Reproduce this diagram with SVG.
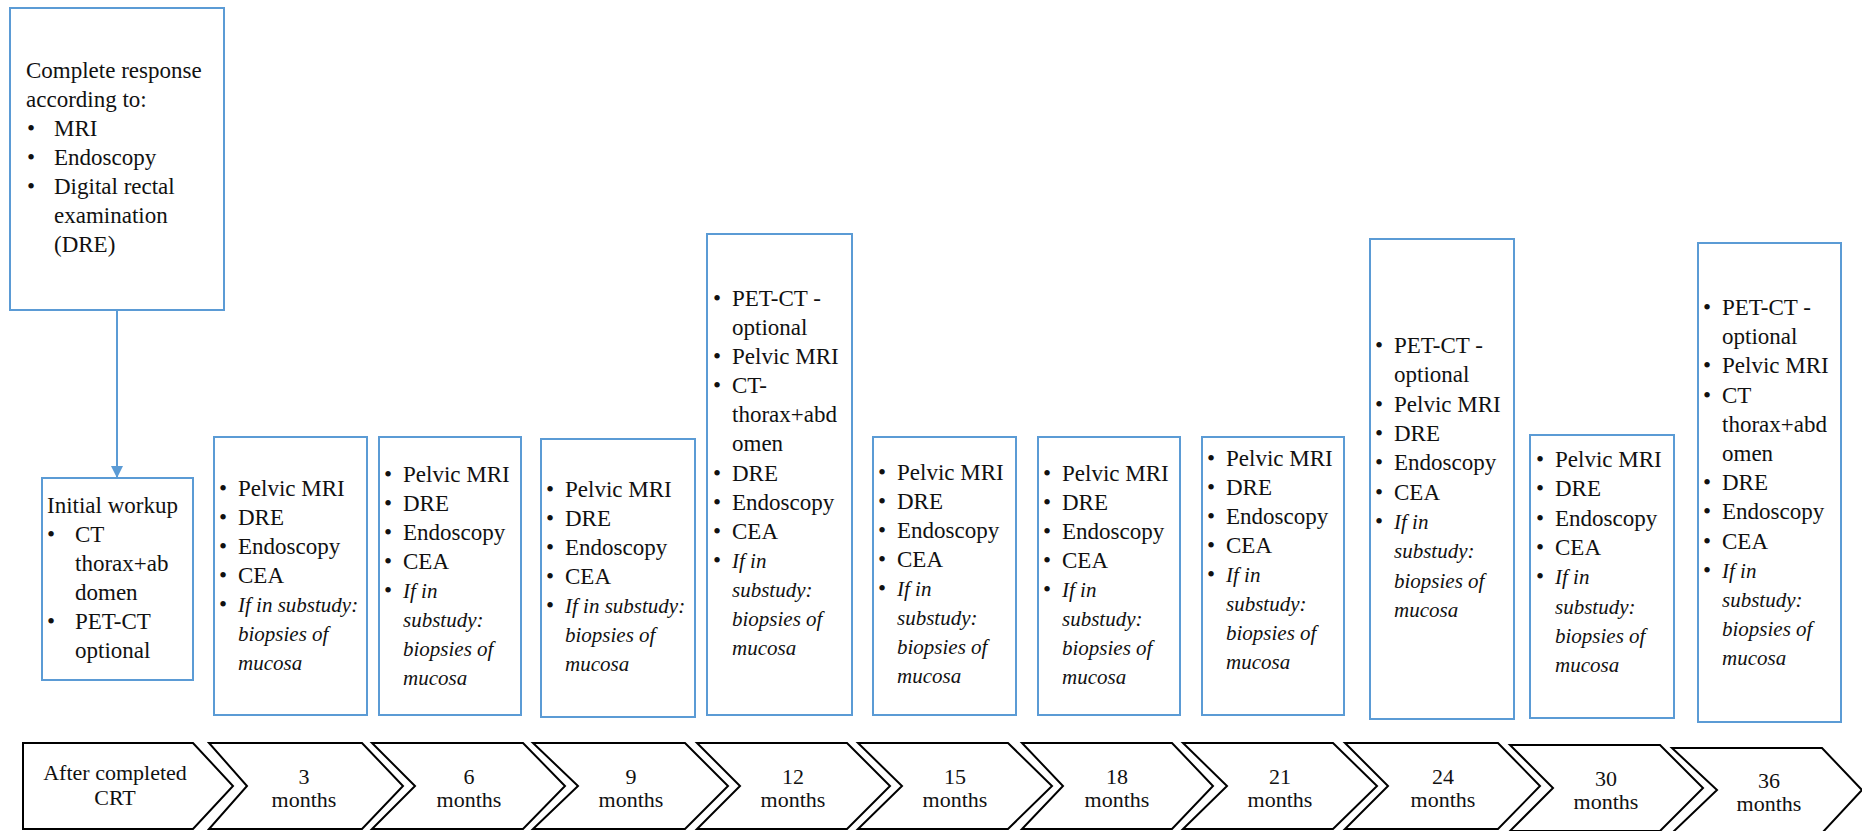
<svg xmlns="http://www.w3.org/2000/svg" width="1862" height="831" viewBox="0 0 1862 831">
<style>
.box{fill:#fff;stroke:#5B9BD5;stroke-width:2}
.chev{fill:#fff;stroke:#000;stroke-width:2;stroke-linejoin:miter}
.t,.i,.b,.c{font-family:'Liberation Serif','Times New Roman',serif;fill:#111}
.t{font-size:23px}
.i{font-size:21px;font-style:italic}
.b{font-size:23px;text-anchor:middle}
.c{font-size:22px;text-anchor:middle}
.conn{stroke:#5B9BD5;stroke-width:2;fill:none}
</style>
<defs>
<marker id="ah" viewBox="0 0 10 10" refX="10" refY="5" markerWidth="12" markerHeight="12" markerUnits="userSpaceOnUse" orient="auto">
<path d="M0,0 L10,5 L0,10 z" fill="#5B9BD5"/>
</marker>
</defs>
<rect width="1862" height="831" fill="#fff"/>

<g id="connectors">
<line class="conn" x1="117" y1="310" x2="117" y2="478" marker-end="url(#ah)"/>
</g>

<g id="complete-response">
<rect class="box" x="10" y="8" width="214" height="302"/>
<text class="t"><tspan x="26" y="78">Complete response</tspan><tspan x="26" y="107">according to:</tspan><tspan x="54" y="136">MRI</tspan><tspan x="54" y="165">Endoscopy</tspan><tspan x="54" y="194">Digital rectal</tspan><tspan x="54" y="223">examination</tspan><tspan x="54" y="252">(DRE)</tspan></text>
<text class="b"><tspan x="31" y="136">•</tspan><tspan x="31" y="165">•</tspan><tspan x="31" y="194">•</tspan></text>
</g>

<g id="initial-workup">
<rect class="box" x="42" y="478" width="151" height="202"/>
<text class="t"><tspan x="47" y="513">Initial workup</tspan><tspan x="75" y="542">CT</tspan><tspan x="75" y="571">thorax+ab</tspan><tspan x="75" y="600">domen</tspan><tspan x="75" y="629">PET-CT</tspan><tspan x="75" y="658">optional</tspan></text>
<text class="b"><tspan x="51" y="542">•</tspan><tspan x="51" y="629">•</tspan></text>
</g>

<g id="box-3">
<rect class="box" x="214" y="437" width="153" height="278"/>
<text class="t"><tspan x="238" y="496">Pelvic MRI</tspan><tspan x="238" y="525">DRE</tspan><tspan x="238" y="554">Endoscopy</tspan><tspan x="238" y="583">CEA</tspan></text>
<text class="i"><tspan x="238" y="612">If in substudy:</tspan><tspan x="238" y="641">biopsies of</tspan><tspan x="238" y="670">mucosa</tspan></text>
<text class="b"><tspan x="223" y="496">•</tspan><tspan x="223" y="525">•</tspan><tspan x="223" y="554">•</tspan><tspan x="223" y="583">•</tspan><tspan x="223" y="612">•</tspan></text>
</g>

<g id="box-6">
<rect class="box" x="379" y="437" width="142" height="278"/>
<text class="t"><tspan x="403" y="482">Pelvic MRI</tspan><tspan x="403" y="511">DRE</tspan><tspan x="403" y="540">Endoscopy</tspan><tspan x="403" y="569">CEA</tspan></text>
<text class="i"><tspan x="403" y="598">If in</tspan><tspan x="403" y="627">substudy:</tspan><tspan x="403" y="656">biopsies of</tspan><tspan x="403" y="685">mucosa</tspan></text>
<text class="b"><tspan x="388" y="482">•</tspan><tspan x="388" y="511">•</tspan><tspan x="388" y="540">•</tspan><tspan x="388" y="569">•</tspan><tspan x="388" y="598">•</tspan></text>
</g>

<g id="box-9">
<rect class="box" x="541" y="439" width="154" height="278"/>
<text class="t"><tspan x="565" y="497">Pelvic MRI</tspan><tspan x="565" y="526">DRE</tspan><tspan x="565" y="555">Endoscopy</tspan><tspan x="565" y="584">CEA</tspan></text>
<text class="i"><tspan x="565" y="613">If in substudy:</tspan><tspan x="565" y="642">biopsies of</tspan><tspan x="565" y="671">mucosa</tspan></text>
<text class="b"><tspan x="550" y="497">•</tspan><tspan x="550" y="526">•</tspan><tspan x="550" y="555">•</tspan><tspan x="550" y="584">•</tspan><tspan x="550" y="613">•</tspan></text>
</g>

<g id="box-12">
<rect class="box" x="707" y="234" width="145" height="481"/>
<text class="t"><tspan x="732" y="306">PET-CT -</tspan><tspan x="732" y="335">optional</tspan><tspan x="732" y="364">Pelvic MRI</tspan><tspan x="732" y="393">CT-</tspan><tspan x="732" y="422">thorax+abd</tspan><tspan x="732" y="451">omen</tspan><tspan x="732" y="481">DRE</tspan><tspan x="732" y="510">Endoscopy</tspan><tspan x="732" y="539">CEA</tspan></text>
<text class="i"><tspan x="732" y="568">If in</tspan><tspan x="732" y="597">substudy:</tspan><tspan x="732" y="626">biopsies of</tspan><tspan x="732" y="655">mucosa</tspan></text>
<text class="b"><tspan x="717" y="306">•</tspan><tspan x="717" y="364">•</tspan><tspan x="717" y="393">•</tspan><tspan x="717" y="481">•</tspan><tspan x="717" y="510">•</tspan><tspan x="717" y="539">•</tspan><tspan x="717" y="568">•</tspan></text>
</g>

<g id="box-15">
<rect class="box" x="873" y="437" width="143" height="278"/>
<text class="t"><tspan x="897" y="480">Pelvic MRI</tspan><tspan x="897" y="509">DRE</tspan><tspan x="897" y="538">Endoscopy</tspan><tspan x="897" y="567">CEA</tspan></text>
<text class="i"><tspan x="897" y="596">If in</tspan><tspan x="897" y="625">substudy:</tspan><tspan x="897" y="654">biopsies of</tspan><tspan x="897" y="683">mucosa</tspan></text>
<text class="b"><tspan x="882" y="480">•</tspan><tspan x="882" y="509">•</tspan><tspan x="882" y="538">•</tspan><tspan x="882" y="567">•</tspan><tspan x="882" y="596">•</tspan></text>
</g>

<g id="box-18">
<rect class="box" x="1038" y="437" width="142" height="278"/>
<text class="t"><tspan x="1062" y="481">Pelvic MRI</tspan><tspan x="1062" y="510">DRE</tspan><tspan x="1062" y="539">Endoscopy</tspan><tspan x="1062" y="568">CEA</tspan></text>
<text class="i"><tspan x="1062" y="597">If in</tspan><tspan x="1062" y="626">substudy:</tspan><tspan x="1062" y="655">biopsies of</tspan><tspan x="1062" y="684">mucosa</tspan></text>
<text class="b"><tspan x="1047" y="481">•</tspan><tspan x="1047" y="510">•</tspan><tspan x="1047" y="539">•</tspan><tspan x="1047" y="568">•</tspan><tspan x="1047" y="597">•</tspan></text>
</g>

<g id="box-21">
<rect class="box" x="1202" y="437" width="142" height="278"/>
<text class="t"><tspan x="1226" y="466">Pelvic MRI</tspan><tspan x="1226" y="495">DRE</tspan><tspan x="1226" y="524">Endoscopy</tspan><tspan x="1226" y="553">CEA</tspan></text>
<text class="i"><tspan x="1226" y="582">If in</tspan><tspan x="1226" y="611">substudy:</tspan><tspan x="1226" y="640">biopsies of</tspan><tspan x="1226" y="669">mucosa</tspan></text>
<text class="b"><tspan x="1211" y="466">•</tspan><tspan x="1211" y="495">•</tspan><tspan x="1211" y="524">•</tspan><tspan x="1211" y="553">•</tspan><tspan x="1211" y="582">•</tspan></text>
</g>

<g id="box-24">
<rect class="box" x="1370" y="239" width="144" height="480"/>
<text class="t"><tspan x="1394" y="353">PET-CT -</tspan><tspan x="1394" y="382">optional</tspan><tspan x="1394" y="412">Pelvic MRI</tspan><tspan x="1394" y="441">DRE</tspan><tspan x="1394" y="470">Endoscopy</tspan><tspan x="1394" y="500">CEA</tspan></text>
<text class="i"><tspan x="1394" y="529">If in</tspan><tspan x="1394" y="558">substudy:</tspan><tspan x="1394" y="588">biopsies of</tspan><tspan x="1394" y="617">mucosa</tspan></text>
<text class="b"><tspan x="1379" y="353">•</tspan><tspan x="1379" y="412">•</tspan><tspan x="1379" y="441">•</tspan><tspan x="1379" y="470">•</tspan><tspan x="1379" y="500">•</tspan><tspan x="1379" y="529">•</tspan></text>
</g>

<g id="box-30">
<rect class="box" x="1530" y="435" width="144" height="283"/>
<text class="t"><tspan x="1555" y="467">Pelvic MRI</tspan><tspan x="1555" y="496">DRE</tspan><tspan x="1555" y="526">Endoscopy</tspan><tspan x="1555" y="555">CEA</tspan></text>
<text class="i"><tspan x="1555" y="584">If in</tspan><tspan x="1555" y="614">substudy:</tspan><tspan x="1555" y="643">biopsies of</tspan><tspan x="1555" y="672">mucosa</tspan></text>
<text class="b"><tspan x="1540" y="467">•</tspan><tspan x="1540" y="496">•</tspan><tspan x="1540" y="526">•</tspan><tspan x="1540" y="555">•</tspan><tspan x="1540" y="584">•</tspan></text>
</g>

<g id="box-36">
<rect class="box" x="1698" y="243" width="143" height="479"/>
<text class="t"><tspan x="1722" y="315">PET-CT -</tspan><tspan x="1722" y="344">optional</tspan><tspan x="1722" y="373">Pelvic MRI</tspan><tspan x="1722" y="403">CT</tspan><tspan x="1722" y="432">thorax+abd</tspan><tspan x="1722" y="461">omen</tspan><tspan x="1722" y="490">DRE</tspan><tspan x="1722" y="519">Endoscopy</tspan><tspan x="1722" y="549">CEA</tspan></text>
<text class="i"><tspan x="1722" y="578">If in</tspan><tspan x="1722" y="607">substudy:</tspan><tspan x="1722" y="636">biopsies of</tspan><tspan x="1722" y="665">mucosa</tspan></text>
<text class="b"><tspan x="1707" y="315">•</tspan><tspan x="1707" y="373">•</tspan><tspan x="1707" y="403">•</tspan><tspan x="1707" y="490">•</tspan><tspan x="1707" y="519">•</tspan><tspan x="1707" y="549">•</tspan><tspan x="1707" y="578">•</tspan></text>
</g>

<g id="timeline">
<g id="t-crt"><polygon class="chev" points="23,743 193,743 233,786 193,829 23,829"/><text class="c"><tspan x="115" y="780">After completed</tspan><tspan x="115" y="805">CRT</tspan></text></g>
<g id="t-3"><polygon class="chev" points="209,743 362,743 403,786 362,829 209,829 247,786"/><text class="c"><tspan x="304" y="784">3</tspan><tspan x="304" y="807">months</tspan></text></g>
<g id="t-6"><polygon class="chev" points="372,743 523,743 565,786 523,829 372,829 415,786"/><text class="c"><tspan x="469" y="784">6</tspan><tspan x="469" y="807">months</tspan></text></g>
<g id="t-9"><polygon class="chev" points="533,743 685,743 728,786 685,829 533,829 578,786"/><text class="c"><tspan x="631" y="784">9</tspan><tspan x="631" y="807">months</tspan></text></g>
<g id="t-12"><polygon class="chev" points="697,743 847,743 890,786 847,829 697,829 740,786"/><text class="c"><tspan x="793" y="784">12</tspan><tspan x="793" y="807">months</tspan></text></g>
<g id="t-15"><polygon class="chev" points="858,743 1008,743 1052,786 1008,829 858,829 902,786"/><text class="c"><tspan x="955" y="784">15</tspan><tspan x="955" y="807">months</tspan></text></g>
<g id="t-18"><polygon class="chev" points="1022,743 1172,743 1213,786 1172,829 1022,829 1063,786"/><text class="c"><tspan x="1117" y="784">18</tspan><tspan x="1117" y="807">months</tspan></text></g>
<g id="t-21"><polygon class="chev" points="1183,743 1333,743 1377,786 1333,829 1183,829 1227,786"/><text class="c"><tspan x="1280" y="784">21</tspan><tspan x="1280" y="807">months</tspan></text></g>
<g id="t-24"><polygon class="chev" points="1345,743 1498,743 1540,786 1498,829 1345,829 1388,786"/><text class="c"><tspan x="1443" y="784">24</tspan><tspan x="1443" y="807">months</tspan></text></g>
<g id="t-30"><polygon class="chev" points="1510,745 1660,745 1703,788 1660,831 1510,831 1553,788"/><text class="c"><tspan x="1606" y="786">30</tspan><tspan x="1606" y="809">months</tspan></text></g>
<g id="t-36"><polygon class="chev" points="1672,748 1822,748 1862,790 1822,833 1672,833 1717,790"/><text class="c"><tspan x="1769" y="788">36</tspan><tspan x="1769" y="811">months</tspan></text></g>
</g>
</svg>
